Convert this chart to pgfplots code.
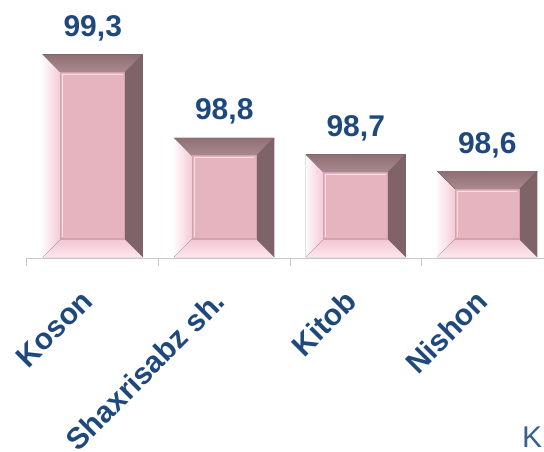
\documentclass[border=0pt]{standalone}
\usepackage{pgfplots}
\pgfplotsset{compat=1.18}
\usepackage{fontspec}
\setmainfont{Liberation Sans}

\definecolor{txtblue}{HTML}{1F497D}
\definecolor{kblue}{HTML}{376092}
\definecolor{topout}{HTML}{8F6F74}
\definecolor{topin}{HTML}{AA8A8F}
\definecolor{rightface}{HTML}{7E6368}
\definecolor{leftout}{HTML}{FFF8FB}
\definecolor{leftin}{HTML}{F3CAD6}
\definecolor{botin}{HTML}{F2C6D2}
\definecolor{botout}{HTML}{FFE6F0}
\definecolor{inner}{HTML}{E6B4BF}
\definecolor{innerline}{HTML}{D4A2AE}
\definecolor{axisgray}{HTML}{C8C8C8}

% bevelled bar, drawn from the top centre of the bar down #1 pt
\newcommand\bevelbar[1]{%
  \fill[opacity=1, draw=none, left color=leftout, right color=leftin]
    (-50pt,0pt) -- (-32pt,-18pt) -- (-32pt,-#1pt+18pt) -- (-50pt,-#1pt) -- cycle;
  \fill[opacity=1, draw=none, top color=botin, bottom color=botout]
    (-50pt,-#1pt) -- (50pt,-#1pt) -- (32pt,-#1pt+18pt) -- (-32pt,-#1pt+18pt) -- cycle;
  \fill[opacity=1, draw=none, fill=rightface]
    (50pt,0pt) -- (50pt,-#1pt) -- (32pt,-#1pt+18pt) -- (32pt,-18pt) -- cycle;
  \fill[opacity=1, draw=none, top color=topout, bottom color=topin]
    (-50pt,0pt) -- (50pt,0pt) -- (32pt,-18pt) -- (-32pt,-18pt) -- cycle;
  \filldraw[opacity=1, fill=inner, draw=innerline, line width=1.2pt]
    (-32pt,-18pt) rectangle (32pt,-#1pt+18pt);
  \draw[opacity=1, draw=white!60!inner, line width=1pt]
    (-30pt,-#1pt+20pt) -- (-30pt,-20pt) -- (30pt,-20pt);
}

\begin{document}
\begin{tikzpicture}
\begin{axis}[
  at={(27pt,193pt)}, anchor=south west,
  x=131.5pt, y=167pt,
  xmin=-0.5, xmax=3.5, ymin=98.08, ymax=99.6,
  clip=false,
  axis x line=bottom, axis y line=none,
  x axis line style={-, draw=axisgray, line width=1pt},
  xtick={0,1,2,3},
  xticklabels={Koson, Shaxrisabz sh., Kitob, Nishon},
  major tick length=0pt,
  minor xtick={-0.5,0.5,1.5,2.5,3.5},
  minor tick length=8pt,
  tick align=outside,
  minor tick style={draw=axisgray, line width=1pt},
  xticklabel style={rotate=45, anchor=north east, yshift=-9pt, xshift=-27pt,
    font=\fontsize{30}{36}\selectfont\bfseries, text=txtblue},
]
% bars
\addplot[
  scatter, only marks, mark=*, mark size=0pt,
  visualization depends on={rawy \as \val},
  scatter/@pre marker code/.code={%
    \pgfmathsetmacro\barh{(\val-98.08)*167-1}%
    \bevelbar{\barh}%
  },
  scatter/@post marker code/.code={},
] coordinates {
  (0, 99.3) (1, 98.8) (2, 98.7) (3, 98.6)
};
% value labels
\addplot[
  only marks, mark=*, mark size=0pt, draw=none, fill=none,
  point meta=y,
  nodes near coords={\pgfmathprintnumber[use comma, fixed, precision=1,
    fixed zerofill, assume math mode=true]{\pgfplotspointmeta}},
  nodes near coords style={anchor=base, yshift=18pt, inner sep=0pt,
    font=\fontsize{30}{36}\selectfont\bfseries, text=txtblue},
] coordinates {
  (0, 99.3) (1, 98.8) (2, 98.7) (3, 98.6)
};
\end{axis}
\node[anchor=base west, inner sep=0pt, text=kblue, font=\fontsize{30}{36}\selectfont]
  at (522pt,4pt) {K};
\pgfresetboundingbox
\useasboundingbox (0pt,0pt) rectangle (544pt,451pt);
\end{tikzpicture}
\end{document}
